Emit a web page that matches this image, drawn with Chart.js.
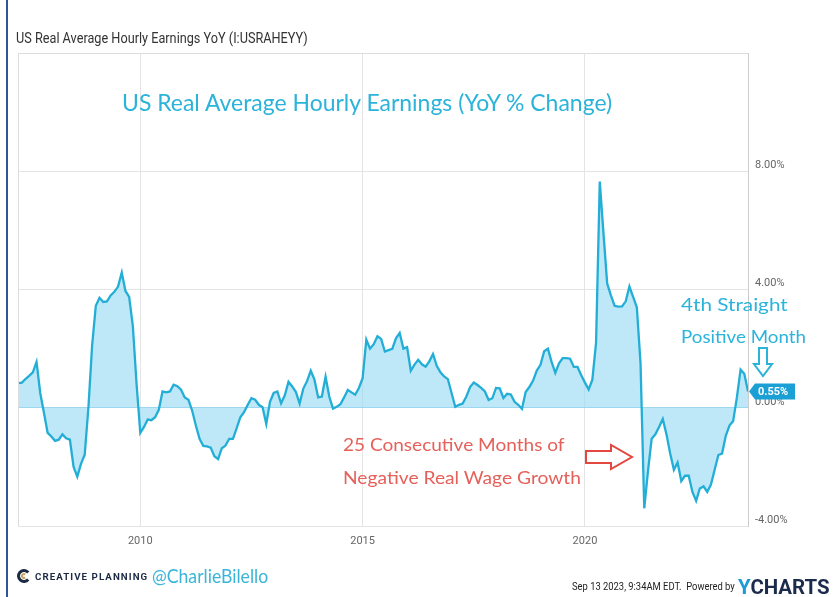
<!DOCTYPE html>
<html>
<head>
<meta charset="utf-8">
<script src="https://cdn.jsdelivr.net/npm/chart.js@4.4.0/dist/chart.umd.min.js"></script>
<style>
  body { margin: 0; background: #fff; }
  #wrap { position: relative; width: 833px; height: 597px; overflow: hidden; }
  #c { position: absolute; left: 0; top: 0; }
  .t { position: absolute; white-space: nowrap; transform-origin: 0 50%; line-height: 1; }
  .hand { font-family: Lato, "Open Sans", sans-serif; }
</style>
</head>
<body>
<div id="wrap">
  <canvas id="c" width="833" height="597"></canvas>
  <div style="position:absolute;left:6px;top:0;width:2px;height:597px;background:#2e5597"></div>
  <div class="t" id="title" data-w="292" style="left:16px;top:30px;font:14px Roboto,sans-serif;color:#333">US Real Average Hourly Earnings YoY (I:USRAHEYY)</div>
  <div class="t hand" id="big" data-w="490" style="left:122px;top:91px;font-size:23px;color:#2bb3da">US Real Average Hourly Earnings (YoY % Change)</div>
  <div class="t hand" data-w="107" style="left:681px;top:295px;font-size:18px;color:#2bb3da">4th Straight</div>
  <div class="t hand" data-w="125" style="left:681px;top:327px;font-size:18px;color:#2bb3da">Positive Month</div>
  <div class="t hand" data-w="222" style="left:343px;top:435px;font-size:18px;color:#e6605a">25 Consecutive Months of</div>
  <div class="t hand" data-w="238" style="left:343px;top:468px;font-size:18px;color:#e6605a">Negative Real Wage Growth</div>
  <div class="t" data-w="113" style="left:35px;top:572px;font:bold 9px Roboto,sans-serif;letter-spacing:1px;color:#1d2a44">CREATIVE PLANNING</div>
  <div class="t hand" data-w="116" style="left:152px;top:566px;font-size:19px;color:#3ab5d8">@CharlieBilello</div>
  <div class="t" data-w="163" style="left:572px;top:580px;font:11px Roboto,sans-serif;color:#222">Sep 13 2023, 9:34AM EDT.&nbsp; Powered by</div>
  <div class="t" data-w="92" style="left:738px;top:575px;font:bold 20px Roboto,sans-serif;color:#1b2b4b"><span style="color:#1e9ad6">Y</span>CHARTS</div>
</div>
<script>
// monthly YoY % change, Mar 2007 .. Aug 2023
const startYear = 2007
const startMonth = 3
const yoyChange = [
  0.84, 0.84, 0.97, 1.08, 1.2, 1.55, 0.5, -0.17, -0.85, -0.97, -1.12, -1.08, -0.9, -1.03, -1.08, -2.0, -2.33, -1.9, -1.59, 0.0,
  2.1, 3.45, 3.72, 3.58, 3.6, 3.8, 3.92, 4.1, 4.57, 3.95, 3.75, 2.75, 0.8,
  -0.85, -0.65, -0.4, -0.42, -0.32, -0.07, 0.55, 0.52, 0.55, 0.78, 0.73, 0.61, 0.35, 0.27, -0.1, -0.6, -1.05, -1.29, -1.31,
  -1.35, -1.64, -1.74, -1.37, -1.28, -1.05, -1.05, -0.7, -0.32, -0.15, 0.1, 0.32, 0.27, 0.1, 0.02,
  -0.55, 0.2, 0.5, 0.55, 0.15, 0.42, 0.88, 0.72, 0.53, 0.14, 0.65, 0.9, 1.25, 0.95, 0.35, 0.38, 1.05, 0.38, -0.03, 0.03,
  0.12, 0.35, 0.6, 0.52, 0.44, 0.67, 1.0, 2.3, 2.0, 2.15, 2.42, 2.33, 1.9,
  1.95, 1.99, 2.35, 2.53, 2.0, 2.05, 1.25, 1.46, 1.62, 1.47, 1.39, 1.57, 1.82, 1.42, 1.2, 1.06, 0.97, 0.5, 0.03, 0.1,
  0.14, 0.38, 0.7, 0.85, 0.77, 0.67, 0.55, 0.26, 0.32, 0.67, 0.66, 0.33, 0.47, 0.45, 0.2,
  0.1, -0.04, 0.53, 0.7, 0.92, 1.26, 1.45, 1.91, 2.0, 1.55, 1.18, 1.5, 1.68, 1.68, 1.66, 1.38, 1.38, 1.1, 0.85, 0.62,
  0.95, 2.2, 7.65, 5.9, 4.2, 3.8, 3.45, 3.42, 3.43, 3.6, 4.1, 3.75, 3.4,
  1.5, -3.4, -2.15, -1.05, -0.9, -0.65, -0.38, -0.9, -1.55, -2.1, -1.85, -2.48, -2.3, -2.3, -2.85, -3.15, -2.73, -2.66,
  -2.85, -2.6, -2.1, -1.6, -1.55, -0.95, -0.6, -0.45, 0.35, 1.29, 1.15, 0.55
]
const yearTicks = [2010, 2015, 2020]
const pctTicks = [-4, 0, 4, 8, 12]

const lineColor = "#22aed6"
const fillColor = "rgba(150, 218, 242, 0.62)"

// month-end positions in decimal years
let points = yoyChange.map(function(v, i){
  return { x: startYear + (startMonth + i) / 12, y: v }
})
let lastValue = yoyChange[yoyChange.length - 1]

const extras = {
  id: "extras",
  afterDraw(chart){
    const ctx = chart.ctx
    const a = chart.chartArea
    ctx.save()
    // top border of the plot
    ctx.strokeStyle = "#dddddd"
    ctx.lineWidth = 1
    ctx.beginPath()
    ctx.moveTo(a.left, a.top + 0.5)
    ctx.lineTo(a.right, a.top + 0.5)
    ctx.moveTo(a.left + 0.5, a.top)
    ctx.lineTo(a.left + 0.5, a.bottom)
    ctx.stroke()

    // last value tag
    const yy = chart.scales.y.getPixelForValue(lastValue)
    const tx = a.right + 1
    ctx.fillStyle = "#1aa0d5"
    ctx.beginPath()
    ctx.moveTo(tx, yy)
    ctx.lineTo(tx + 6, yy - 8)
    ctx.lineTo(tx + 46, yy - 8)
    ctx.lineTo(tx + 46, yy + 8)
    ctx.lineTo(tx + 6, yy + 8)
    ctx.closePath()
    ctx.fill()
    ctx.fillStyle = "#fff"
    ctx.font = "bold 11px Roboto, sans-serif"
    ctx.textBaseline = "middle"
    ctx.fillText(lastValue.toFixed(2) + "%", tx + 9, yy + 1)

    // teal down arrow
    ctx.strokeStyle = "#2bb3da"
    ctx.lineWidth = 2
    ctx.beginPath()
    ctx.moveTo(759, 348)
    ctx.lineTo(767, 348)
    ctx.lineTo(767, 364)
    ctx.lineTo(772, 364)
    ctx.lineTo(763, 376)
    ctx.lineTo(754, 364)
    ctx.lineTo(759, 364)
    ctx.closePath()
    ctx.stroke()

    // red right arrow
    ctx.strokeStyle = "#e4473f"
    ctx.beginPath()
    ctx.moveTo(586, 451)
    ctx.lineTo(611, 451)
    ctx.lineTo(611, 445)
    ctx.lineTo(632, 457)
    ctx.lineTo(611, 469)
    ctx.lineTo(611, 463)
    ctx.lineTo(586, 463)
    ctx.closePath()
    ctx.stroke()

    // creative planning mark
    ctx.lineWidth = 3
    ctx.strokeStyle = "#1d2a44"
    ctx.beginPath()
    ctx.arc(24, 576, 5.5, 0.7, 2 * Math.PI - 0.7, false)
    ctx.stroke()
    ctx.strokeStyle = "#c8a25a"
    ctx.lineWidth = 2
    ctx.beginPath()
    ctx.arc(24, 576, 2, 0.9, 2 * Math.PI - 0.9, false)
    ctx.stroke()
    ctx.restore()
  }
}

const chart = new Chart(document.getElementById("c"), {
  type: "line",
  data: {
    datasets: [{
      data: points,
      borderColor: lineColor,
      backgroundColor: fillColor,
      borderWidth: 2.3,
      pointRadius: 0,
      tension: 0,
      fill: "origin"
    }]
  },
  options: {
    responsive: false,
    animation: false,
    layout: { padding: { left: 18, top: 53, right: 0, bottom: 0 } },
    plugins: { legend: { display: false }, tooltip: { enabled: false } },
    scales: {
      x: {
        type: "linear",
        min: startYear + startMonth / 12,
        max: startYear + (startMonth + yoyChange.length - 1) / 12,
        afterBuildTicks(scale){
          scale.ticks = yearTicks.map(function(y){ return { value: y } })
        },
        afterFit(scale){ scale.height = 71 },
        border: { display: false },
        grid: { color: "#e4e4e4", drawTicks: false },
        ticks: {
          color: "#666",
          font: { family: "Roboto", size: 11 },
          padding: 9,
          callback: function(v){ return String(v) }
        }
      },
      y: {
        position: "right",
        min: pctTicks[0],
        max: pctTicks[pctTicks.length - 1],
        afterBuildTicks(scale){
          scale.ticks = pctTicks.map(function(v){ return { value: v } })
        },
        afterFit(scale){ scale.width = 85 },
        border: { display: true, color: "#cccccc" },
        grid: {
          drawTicks: false,
          color: function(c){ return c.tick && c.tick.value == 0 ? "#9fd7ec" : "#e4e4e4" }
        },
        ticks: {
          color: "#666",
          font: { family: "Roboto", size: 11 },
          padding: 7,
          labelOffset: -6,
          callback: function(v){ return v == 12 ? "" : v.toFixed(2) + "%" }
        }
      }
    }
  },
  plugins: [extras]
})

function fitTexts(){
  document.querySelectorAll(".t").forEach(function(el){
    el.style.transform = "none"
    let w = el.offsetWidth
    let target = parseFloat(el.dataset.w)
    if (w > 0) el.style.transform = "scaleX(" + (target / w) + ")"
  })
}
fitTexts()
if (document.fonts) document.fonts.ready.then(fitTexts)
</script>
</body>
</html>
